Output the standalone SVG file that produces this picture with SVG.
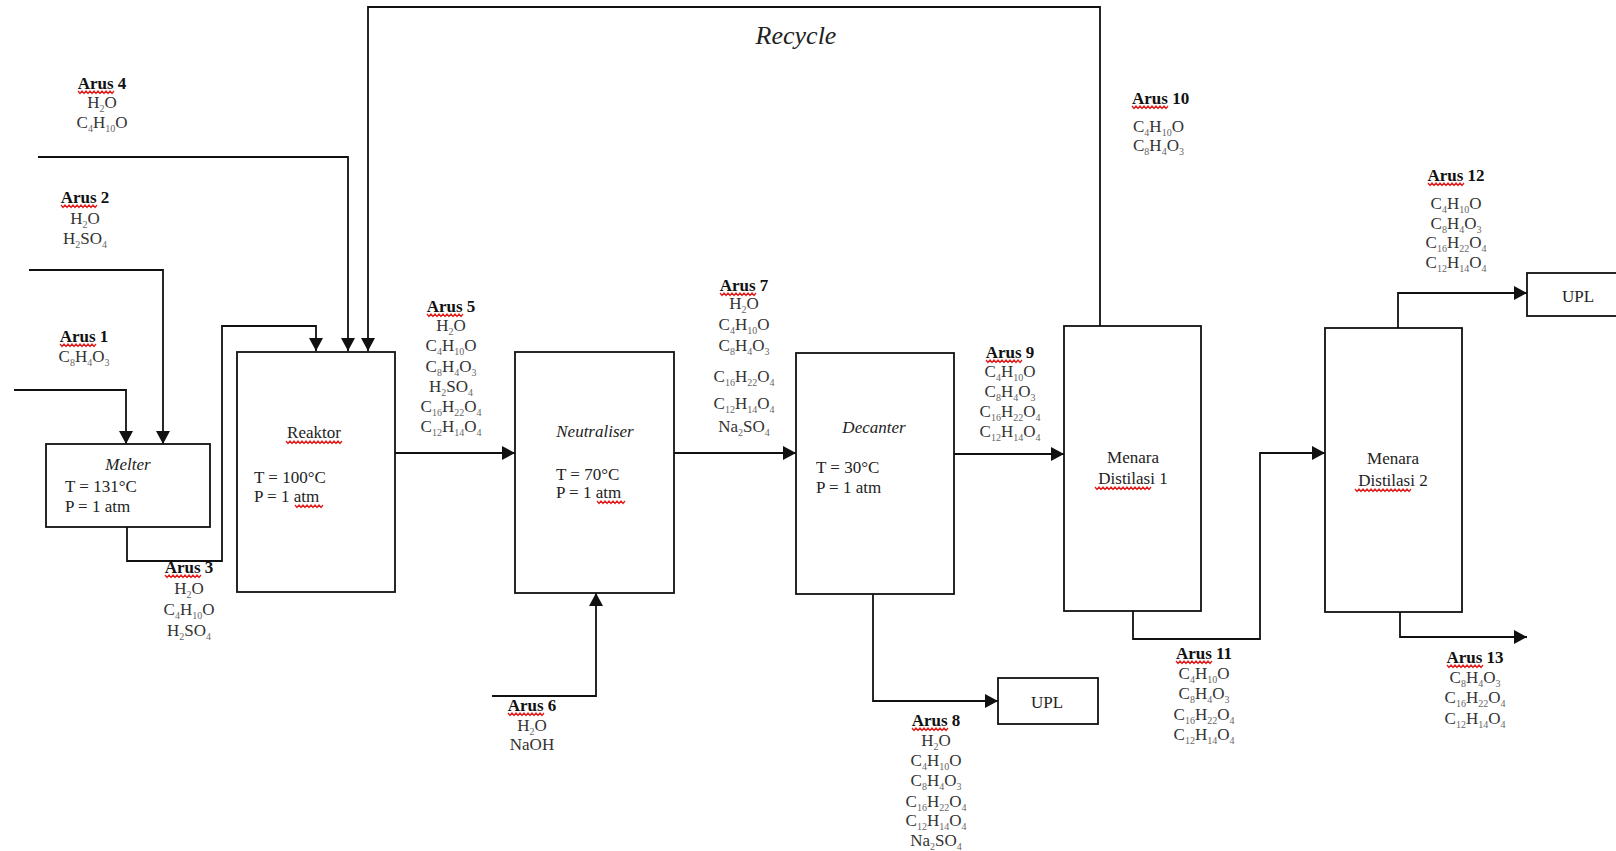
<svg xmlns="http://www.w3.org/2000/svg" xmlns:xlink="http://www.w3.org/1999/xlink" width="1616" height="851" viewBox="0 0 1616 851">
<style>
text{font-family:"Liberation Serif","Times New Roman",serif;font-size:17px;fill:#222}
.c{text-anchor:middle}
.f{fill:#333}
.b{font-weight:bold;fill:#111}
.i{font-style:italic}
.s{font-size:10px;fill:#666}
.box{fill:#fff;stroke:#111;stroke-width:1.8}
.ln{fill:none;stroke:#111;stroke-width:1.8}
.sq{fill:none;stroke:#e31c1c;stroke-width:1.3}
</style>
<defs>
<marker id="ar" markerUnits="userSpaceOnUse" markerWidth="14" markerHeight="14" refX="13" refY="7" orient="auto">
<path d="M0,0 L13,7 L0,14 z" fill="#111"/>
</marker>
<path id="sq36" class="sq" d="M0,0 l2,2.4 l2,-2.4 l2,2.4 l2,-2.4 l2,2.4 l2,-2.4 l2,2.4 l2,-2.4 l2,2.4 l2,-2.4 l2,2.4 l2,-2.4 l2,2.4 l2,-2.4 l2,2.4 l2,-2.4 l2,2.4 l2,-2.4"/>
<path id="sq56" class="sq" d="M0,0 l2,2.4 l2,-2.4 l2,2.4 l2,-2.4 l2,2.4 l2,-2.4 l2,2.4 l2,-2.4 l2,2.4 l2,-2.4 l2,2.4 l2,-2.4 l2,2.4 l2,-2.4 l2,2.4 l2,-2.4 l2,2.4 l2,-2.4 l2,2.4 l2,-2.4 l2,2.4 l2,-2.4 l2,2.4 l2,-2.4 l2,2.4 l2,-2.4 l2,2.4 l2,-2.4"/>
<path id="sq28" class="sq" d="M0,0 l2,2.4 l2,-2.4 l2,2.4 l2,-2.4 l2,2.4 l2,-2.4 l2,2.4 l2,-2.4 l2,2.4 l2,-2.4 l2,2.4 l2,-2.4 l2,2.4 l2,-2.4"/>
</defs>
<rect width="1616" height="851" fill="#fff"/>

<g id="connectors">
<path class="ln" d="M38,157 H348 V351" marker-end="url(#ar)"/>
<path class="ln" d="M1100,326 V7 H368 V351" marker-end="url(#ar)"/>
<path class="ln" d="M29,270 H163 V444" marker-end="url(#ar)"/>
<path class="ln" d="M14,390 H126 V444" marker-end="url(#ar)"/>
<path class="ln" d="M127,527 V561 H222 V326 H316 V351" marker-end="url(#ar)"/>
<path class="ln" d="M395,453 H515" marker-end="url(#ar)"/>
<path class="ln" d="M492,696 H596 V593" marker-end="url(#ar)"/>
<path class="ln" d="M674,453 H796" marker-end="url(#ar)"/>
<path class="ln" d="M954,454 H1064" marker-end="url(#ar)"/>
<path class="ln" d="M873,594 V701 H998" marker-end="url(#ar)"/>
<path class="ln" d="M1133,611 V639 H1260 V453 H1325" marker-end="url(#ar)"/>
<path class="ln" d="M1398,328 V293 H1527" marker-end="url(#ar)"/>
<path class="ln" d="M1400,612 V637 H1527" marker-end="url(#ar)"/>
</g>

<g id="recycle-label">
<text class="c i" x="796" y="44" style="font-size:26px">Recycle</text>
</g>

<g id="melter">
<rect class="box" x="46" y="444" width="164" height="83"/>
<text class="c i" x="128" y="470">Melter</text>
<text x="65" y="492">T = 131°C</text>
<text x="65" y="512">P = 1 atm</text>
</g>

<g id="reaktor">
<rect class="box" x="237" y="352" width="158" height="240"/>
<text class="c" x="314" y="438">Reaktor</text>
<use xlink:href="#sq56" x="286" y="441"/>
<text x="254" y="483">T = 100°C</text>
<text x="254" y="502">P = 1 atm</text>
<use xlink:href="#sq28" x="295" y="505"/>
</g>

<g id="neutraliser">
<rect class="box" x="515" y="352" width="159" height="241"/>
<text class="c i" x="595" y="437">Neutraliser</text>
<text x="556" y="480">T = 70°C</text>
<text x="556" y="498">P = 1 atm</text>
<use xlink:href="#sq28" x="597" y="501"/>
</g>

<g id="decanter">
<rect class="box" x="796" y="353" width="158" height="241"/>
<text class="c i" x="874" y="433">Decanter</text>
<text x="816" y="473">T = 30°C</text>
<text x="816" y="493">P = 1 atm</text>
</g>

<g id="menara1">
<rect class="box" x="1064" y="326" width="137" height="285"/>
<text class="c" x="1133" y="463">Menara</text>
<text class="c" x="1133" y="484">Distilasi 1</text>
<use xlink:href="#sq56" x="1095" y="487"/>
</g>

<g id="menara2">
<rect class="box" x="1325" y="328" width="137" height="284"/>
<text class="c" x="1393" y="464">Menara</text>
<text class="c" x="1393" y="486">Distilasi 2</text>
<use xlink:href="#sq56" x="1355" y="489"/>
</g>

<g id="upl-top">
<rect class="box" x="1527" y="273" width="100" height="43"/>
<text class="c" x="1578" y="302">UPL</text>
</g>

<g id="upl-bottom">
<rect class="box" x="998" y="678" width="100" height="46"/>
<text class="c" x="1047" y="708">UPL</text>
</g>

<g id="arus4">
<text class="c b" x="102" y="89">Arus 4</text>
<use xlink:href="#sq36" x="78" y="91"/>
<text class="c f" x="102" y="108">H<tspan class="s" dy="4">2</tspan><tspan dy="-4">O</tspan></text>
<text class="c f" x="102" y="128">C<tspan class="s" dy="4">4</tspan><tspan dy="-4">H</tspan><tspan class="s" dy="4">10</tspan><tspan dy="-4">O</tspan></text>
</g>

<g id="arus2">
<text class="c b" x="85" y="203">Arus 2</text>
<use xlink:href="#sq36" x="61" y="205"/>
<text class="c f" x="85" y="224">H<tspan class="s" dy="4">2</tspan><tspan dy="-4">O</tspan></text>
<text class="c f" x="85" y="244">H<tspan class="s" dy="4">2</tspan><tspan dy="-4">SO</tspan><tspan class="s" dy="4">4</tspan></text>
</g>

<g id="arus1">
<text class="c b" x="84" y="342">Arus 1</text>
<use xlink:href="#sq36" x="60" y="344"/>
<text class="c f" x="84" y="362">C<tspan class="s" dy="4">8</tspan><tspan dy="-4">H</tspan><tspan class="s" dy="4">4</tspan><tspan dy="-4">O</tspan><tspan class="s" dy="4">3</tspan></text>
</g>

<g id="arus3">
<text class="c b" x="189" y="573">Arus 3</text>
<use xlink:href="#sq36" x="165" y="575"/>
<text class="c f" x="189" y="594">H<tspan class="s" dy="4">2</tspan><tspan dy="-4">O</tspan></text>
<text class="c f" x="189" y="615">C<tspan class="s" dy="4">4</tspan><tspan dy="-4">H</tspan><tspan class="s" dy="4">10</tspan><tspan dy="-4">O</tspan></text>
<text class="c f" x="189" y="636">H<tspan class="s" dy="4">2</tspan><tspan dy="-4">SO</tspan><tspan class="s" dy="4">4</tspan></text>
</g>

<g id="arus5">
<text class="c b" x="451" y="312">Arus 5</text>
<use xlink:href="#sq36" x="427" y="314"/>
<text class="c f" x="451" y="331">H<tspan class="s" dy="4">2</tspan><tspan dy="-4">O</tspan></text>
<text class="c f" x="451" y="351">C<tspan class="s" dy="4">4</tspan><tspan dy="-4">H</tspan><tspan class="s" dy="4">10</tspan><tspan dy="-4">O</tspan></text>
<text class="c f" x="451" y="372">C<tspan class="s" dy="4">8</tspan><tspan dy="-4">H</tspan><tspan class="s" dy="4">4</tspan><tspan dy="-4">O</tspan><tspan class="s" dy="4">3</tspan></text>
<text class="c f" x="451" y="392">H<tspan class="s" dy="4">2</tspan><tspan dy="-4">SO</tspan><tspan class="s" dy="4">4</tspan></text>
<text class="c f" x="451" y="412">C<tspan class="s" dy="4">16</tspan><tspan dy="-4">H</tspan><tspan class="s" dy="4">22</tspan><tspan dy="-4">O</tspan><tspan class="s" dy="4">4</tspan></text>
<text class="c f" x="451" y="432">C<tspan class="s" dy="4">12</tspan><tspan dy="-4">H</tspan><tspan class="s" dy="4">14</tspan><tspan dy="-4">O</tspan><tspan class="s" dy="4">4</tspan></text>
</g>

<g id="arus6">
<text class="c b" x="532" y="711">Arus 6</text>
<use xlink:href="#sq36" x="508" y="713"/>
<text class="c f" x="532" y="731">H<tspan class="s" dy="4">2</tspan><tspan dy="-4">O</tspan></text>
<text class="c f" x="532" y="750">NaOH</text>
</g>

<g id="arus7">
<text class="c b" x="744" y="291">Arus 7</text>
<use xlink:href="#sq36" x="720" y="293"/>
<text class="c f" x="744" y="309">H<tspan class="s" dy="4">2</tspan><tspan dy="-4">O</tspan></text>
<text class="c f" x="744" y="330">C<tspan class="s" dy="4">4</tspan><tspan dy="-4">H</tspan><tspan class="s" dy="4">10</tspan><tspan dy="-4">O</tspan></text>
<text class="c f" x="744" y="351">C<tspan class="s" dy="4">8</tspan><tspan dy="-4">H</tspan><tspan class="s" dy="4">4</tspan><tspan dy="-4">O</tspan><tspan class="s" dy="4">3</tspan></text>
<text class="c f" x="744" y="382">C<tspan class="s" dy="4">16</tspan><tspan dy="-4">H</tspan><tspan class="s" dy="4">22</tspan><tspan dy="-4">O</tspan><tspan class="s" dy="4">4</tspan></text>
<text class="c f" x="744" y="409">C<tspan class="s" dy="4">12</tspan><tspan dy="-4">H</tspan><tspan class="s" dy="4">14</tspan><tspan dy="-4">O</tspan><tspan class="s" dy="4">4</tspan></text>
<text class="c f" x="744" y="432">Na<tspan class="s" dy="4">2</tspan><tspan dy="-4">SO</tspan><tspan class="s" dy="4">4</tspan></text>
</g>

<g id="arus8">
<text class="c b" x="936" y="726">Arus 8</text>
<use xlink:href="#sq36" x="912" y="728"/>
<text class="c f" x="936" y="746">H<tspan class="s" dy="4">2</tspan><tspan dy="-4">O</tspan></text>
<text class="c f" x="936" y="766">C<tspan class="s" dy="4">4</tspan><tspan dy="-4">H</tspan><tspan class="s" dy="4">10</tspan><tspan dy="-4">O</tspan></text>
<text class="c f" x="936" y="786">C<tspan class="s" dy="4">8</tspan><tspan dy="-4">H</tspan><tspan class="s" dy="4">4</tspan><tspan dy="-4">O</tspan><tspan class="s" dy="4">3</tspan></text>
<text class="c f" x="936" y="807">C<tspan class="s" dy="4">16</tspan><tspan dy="-4">H</tspan><tspan class="s" dy="4">22</tspan><tspan dy="-4">O</tspan><tspan class="s" dy="4">4</tspan></text>
<text class="c f" x="936" y="826">C<tspan class="s" dy="4">12</tspan><tspan dy="-4">H</tspan><tspan class="s" dy="4">14</tspan><tspan dy="-4">O</tspan><tspan class="s" dy="4">4</tspan></text>
<text class="c f" x="936" y="846">Na<tspan class="s" dy="4">2</tspan><tspan dy="-4">SO</tspan><tspan class="s" dy="4">4</tspan></text>
</g>

<g id="arus9">
<text class="c b" x="1010" y="358">Arus 9</text>
<use xlink:href="#sq36" x="986" y="360"/>
<text class="c f" x="1010" y="377">C<tspan class="s" dy="4">4</tspan><tspan dy="-4">H</tspan><tspan class="s" dy="4">10</tspan><tspan dy="-4">O</tspan></text>
<text class="c f" x="1010" y="397">C<tspan class="s" dy="4">8</tspan><tspan dy="-4">H</tspan><tspan class="s" dy="4">4</tspan><tspan dy="-4">O</tspan><tspan class="s" dy="4">3</tspan></text>
<text class="c f" x="1010" y="417">C<tspan class="s" dy="4">16</tspan><tspan dy="-4">H</tspan><tspan class="s" dy="4">22</tspan><tspan dy="-4">O</tspan><tspan class="s" dy="4">4</tspan></text>
<text class="c f" x="1010" y="437">C<tspan class="s" dy="4">12</tspan><tspan dy="-4">H</tspan><tspan class="s" dy="4">14</tspan><tspan dy="-4">O</tspan><tspan class="s" dy="4">4</tspan></text>
</g>

<g id="arus10">
<text class="b" x="1132" y="104">Arus 10</text>
<use xlink:href="#sq36" x="1132" y="106"/>
<text class="f" x="1133" y="132">C<tspan class="s" dy="4">4</tspan><tspan dy="-4">H</tspan><tspan class="s" dy="4">10</tspan><tspan dy="-4">O</tspan></text>
<text class="f" x="1133" y="151">C<tspan class="s" dy="4">8</tspan><tspan dy="-4">H</tspan><tspan class="s" dy="4">4</tspan><tspan dy="-4">O</tspan><tspan class="s" dy="4">3</tspan></text>
</g>

<g id="arus11">
<text class="c b" x="1204" y="659">Arus 11</text>
<use xlink:href="#sq36" x="1176" y="661"/>
<text class="c f" x="1204" y="679">C<tspan class="s" dy="4">4</tspan><tspan dy="-4">H</tspan><tspan class="s" dy="4">10</tspan><tspan dy="-4">O</tspan></text>
<text class="c f" x="1204" y="699">C<tspan class="s" dy="4">8</tspan><tspan dy="-4">H</tspan><tspan class="s" dy="4">4</tspan><tspan dy="-4">O</tspan><tspan class="s" dy="4">3</tspan></text>
<text class="c f" x="1204" y="720">C<tspan class="s" dy="4">16</tspan><tspan dy="-4">H</tspan><tspan class="s" dy="4">22</tspan><tspan dy="-4">O</tspan><tspan class="s" dy="4">4</tspan></text>
<text class="c f" x="1204" y="740">C<tspan class="s" dy="4">12</tspan><tspan dy="-4">H</tspan><tspan class="s" dy="4">14</tspan><tspan dy="-4">O</tspan><tspan class="s" dy="4">4</tspan></text>
</g>

<g id="arus12">
<text class="c b" x="1456" y="181">Arus 12</text>
<use xlink:href="#sq36" x="1428" y="183"/>
<text class="c f" x="1456" y="209">C<tspan class="s" dy="4">4</tspan><tspan dy="-4">H</tspan><tspan class="s" dy="4">10</tspan><tspan dy="-4">O</tspan></text>
<text class="c f" x="1456" y="229">C<tspan class="s" dy="4">8</tspan><tspan dy="-4">H</tspan><tspan class="s" dy="4">4</tspan><tspan dy="-4">O</tspan><tspan class="s" dy="4">3</tspan></text>
<text class="c f" x="1456" y="248">C<tspan class="s" dy="4">16</tspan><tspan dy="-4">H</tspan><tspan class="s" dy="4">22</tspan><tspan dy="-4">O</tspan><tspan class="s" dy="4">4</tspan></text>
<text class="c f" x="1456" y="268">C<tspan class="s" dy="4">12</tspan><tspan dy="-4">H</tspan><tspan class="s" dy="4">14</tspan><tspan dy="-4">O</tspan><tspan class="s" dy="4">4</tspan></text>
</g>

<g id="arus13">
<text class="c b" x="1475" y="663">Arus 13</text>
<use xlink:href="#sq36" x="1447" y="665"/>
<text class="c f" x="1475" y="683">C<tspan class="s" dy="4">8</tspan><tspan dy="-4">H</tspan><tspan class="s" dy="4">4</tspan><tspan dy="-4">O</tspan><tspan class="s" dy="4">3</tspan></text>
<text class="c f" x="1475" y="703">C<tspan class="s" dy="4">16</tspan><tspan dy="-4">H</tspan><tspan class="s" dy="4">22</tspan><tspan dy="-4">O</tspan><tspan class="s" dy="4">4</tspan></text>
<text class="c f" x="1475" y="724">C<tspan class="s" dy="4">12</tspan><tspan dy="-4">H</tspan><tspan class="s" dy="4">14</tspan><tspan dy="-4">O</tspan><tspan class="s" dy="4">4</tspan></text>
</g>
</svg>
